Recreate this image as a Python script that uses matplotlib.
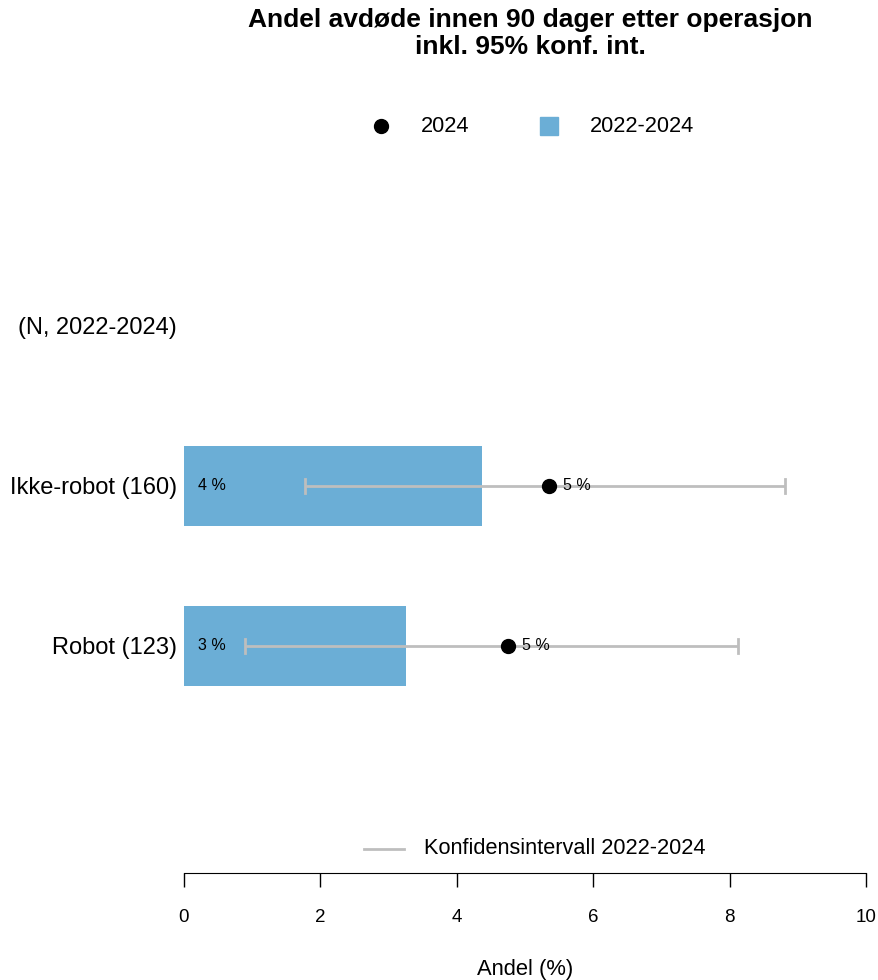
import matplotlib
matplotlib.use("Agg")
import matplotlib.pyplot as plt
from matplotlib.lines import Line2D

plt.rcParams['font.family'] = ['Liberation Sans', 'DejaVu Sans']

categories = ["Robot (123)", "Ikke-robot (160)"]
share_period = [3.25, 4.375]       # 2022-2024 (bars)
share_2024 = [4.75, 5.35]          # 2024 (points)
ci_low = [0.89, 1.77]
ci_high = [8.12, 8.81]
bar_labels = ["3 %", "4 %"]
point_labels = ["5 %", "5 %"]
xticks = [0, 2, 4, 6, 8, 10]

bar_color = "#6BAED6"
ci_color = "#BEBEBE"

fig = plt.figure(figsize=(8.79, 9.80), dpi=100)
W, H = 879, 980
ax = fig.add_axes([184 / W, 1 - 873 / H, (866 - 184) / W, (873 - 166) / H])

ypos = [1, 2]
ax.barh(ypos, share_period, height=0.5, color=bar_color, edgecolor="none", zorder=1)
for y, lo, hi in zip(ypos, ci_low, ci_high):
    ax.plot([lo, hi], [y, y], color=ci_color, lw=2, zorder=2, solid_capstyle="butt")
    for xv in (lo, hi):
        ax.plot([xv, xv], [y - 0.045, y + 0.045], color=ci_color, lw=2, zorder=2)
ax.scatter(share_2024, ypos, s=100, color="black", zorder=3)
for y, t in zip(ypos, bar_labels):
    ax.text(0.2, y, t, ha="left", va="center", fontsize=11.5, zorder=4)
for y, xv, t in zip(ypos, share_2024, point_labels):
    ax.text(xv + 0.2, y, t, ha="left", va="center", fontsize=11.5, zorder=4)

ax.set_xlim(0, 10)
ax.set_ylim(-0.42, 4.0)
ax.set_xticks(xticks)
ax.set_xticklabels([str(v) for v in xticks], fontsize=13.5)
ax.set_yticks(ypos + [3])
ax.set_yticklabels(categories + ["(N, 2022-2024)"], fontsize=17)
ax.tick_params(axis="y", length=0, pad=5)
ax.tick_params(axis="x", length=10, width=1, pad=16, direction="out")
for s in ["top", "right", "left"]:
    ax.spines[s].set_visible(False)
ax.spines["bottom"].set_bounds(0, 10)
ax.set_xlabel("Andel (%)", fontsize=15.8, labelpad=24)
ax.margins(0)

title_lines = ["Andel avdøde innen 90 dager etter operasjon", "inkl. 95% konf. int."]
for ty, line in zip([20, 47], title_lines):
    fig.text(530 / W, 1 - ty / H, line, ha="center", va="center", fontsize=19, fontweight="bold")

# top legend
fig.lines.append(Line2D([381 / W], [1 - 126 / H], marker="o", markersize=10, color="black",
                        linestyle="none", transform=fig.transFigure))
fig.text(421 / W, 1 - 127 / H, "2024", ha="left", va="center", fontsize=15.7)
fig.patches.append(plt.Rectangle((540 / W, 1 - 135 / H), 18 / W, 18 / H, color=bar_color,
                                 transform=fig.transFigure))
fig.text(590 / W, 1 - 127 / H, "2022-2024", ha="left", va="center", fontsize=15.7)

# bottom legend
fig.lines.append(Line2D([364 / W, 404 / W], [1 - 849 / H, 1 - 849 / H], color=ci_color, lw=2,
                        transform=fig.transFigure))
fig.text(424 / W, 1 - 849 / H, "Konfidensintervall 2022-2024", ha="left", va="center", fontsize=15.7)

fig.savefig("out.png", dpi=100)
